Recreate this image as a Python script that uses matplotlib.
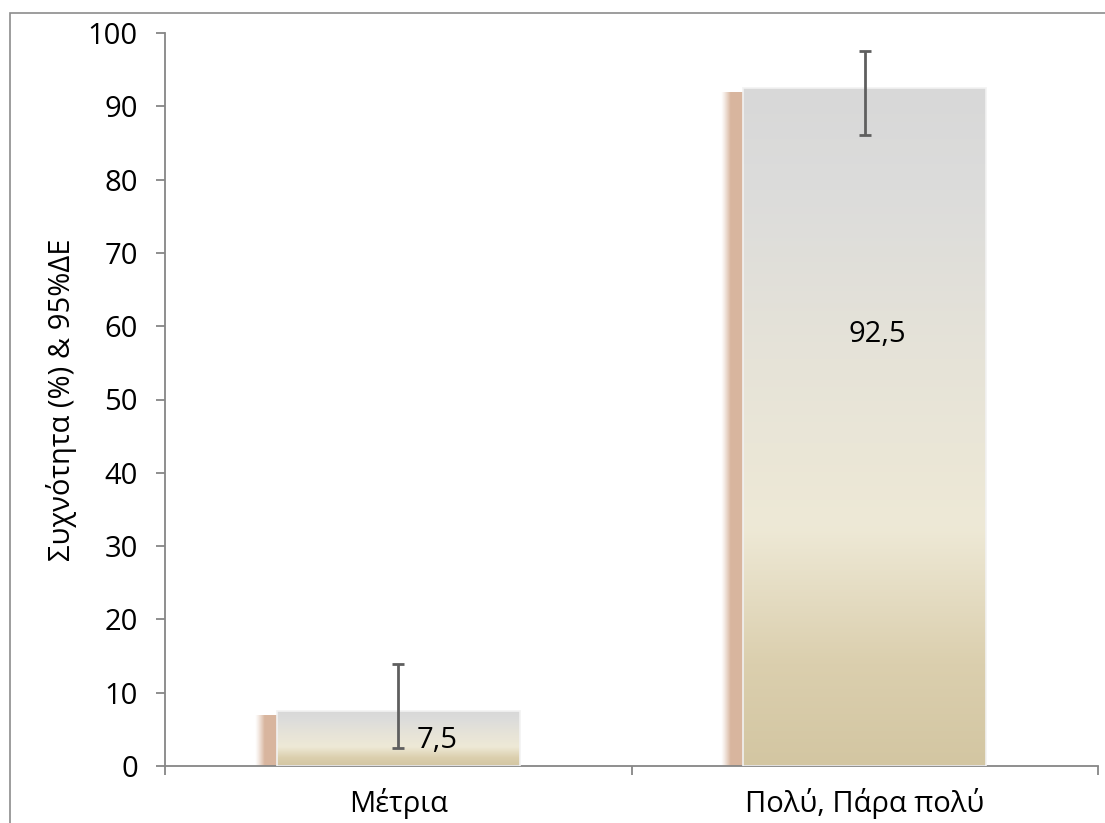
import numpy as np
import matplotlib
matplotlib.use("Agg")
import matplotlib.pyplot as plt
from matplotlib.colors import LinearSegmentedColormap
from matplotlib.patches import Rectangle

plt.rcParams['font.family'] = ['Open Sans', 'DejaVu Sans']

# data
categories = ['Μέτρια', 'Πολύ, Πάρα πολύ']
values = [7.5, 92.5]
ci_low = [2.5, 86.1]
ci_high = [13.9, 97.5]
value_labels = ['7,5', '92,5']
label_y = [3.5, 58.8]
label_dx = [0.083, 0.028]
y_ticks = list(range(0, 101, 10))

fs = 21

fig = plt.figure(figsize=(11.05, 8.23), dpi=100)
ax = fig.add_axes([165 / 1105, 1 - 766 / 823, (1098 - 165) / 1105, (766 - 33) / 823])

# outer chart border (only left/top visible in the crop)
fig.patches.append(Rectangle((10 / 1105, -0.02), 1.1, 1 - 13 / 823 + 0.02,
                             transform=fig.transFigure, fill=False,
                             edgecolor='#8c8c8c', linewidth=1.2, zorder=0))

grad = LinearSegmentedColormap.from_list(
    'bar', [(0.0, '#d3c6a2'), (0.15, '#dbcfae'), (0.35, '#eee9d6'),
            (0.6, '#e6e3d8'), (0.85, '#dcdcdb'), (1.0, '#d8d8d8')])
shadow = np.array([0.85, 0.71, 0.62])

x = np.arange(len(categories))
width = 0.52
bars = ax.bar(x, values, width=width, color='none', edgecolor='#f2f2f2',
              linewidth=1.2, zorder=3)

g = np.linspace(0, 1, 256).reshape(-1, 1)
for b in bars:
    x0, w, h = b.get_x(), b.get_width(), b.get_height()
    im = ax.imshow(g, cmap=grad, origin='lower', aspect='auto',
                   extent=[x0, x0 + w, 0, h], zorder=2, interpolation='bilinear')
    im.set_clip_path(b)
    # soft shadow to the left of each bar
    sw = 0.048
    t = np.linspace(0, 1, 64)
    alpha = np.clip(t / 0.42, 0, 1) ** 1.2
    sh = np.zeros((1, 64, 4))
    sh[0, :, :3] = shadow
    sh[0, :, 3] = alpha
    ax.imshow(sh, aspect='auto', extent=[x0 - sw, x0, 0, h - 0.6],
              zorder=1.5, interpolation='bilinear')

yerr = [np.array(values) - np.array(ci_low), np.array(ci_high) - np.array(values)]
ax.errorbar(x, values, yerr=yerr, fmt='none', ecolor='#5f5f5f',
            elinewidth=2.0, capsize=4.5, capthick=2.0, zorder=4)

for xi, lab, ly, dx in zip(x, value_labels, label_y, label_dx):
    ax.text(xi + dx, ly, lab, ha='center', va='center', fontsize=fs,
            color='black', zorder=5)

ax.set_xlim(-0.5, len(categories) - 0.5)
ax.set_ylim(0, 100)
ax.set_yticks(y_ticks)
ax.set_xticks(x)
ax.set_xticklabels(categories, fontsize=fs)
ax.set_xticks(np.arange(-0.5, len(categories), 1.0), minor=True)
ax.tick_params(axis='x', which='major', length=0, pad=16)
ax.tick_params(axis='x', which='minor', length=6.5, width=1.3, color='#868686')
ax.tick_params(axis='y', labelsize=fs, length=6.5, width=1.3, color='#868686', pad=13)
ax.set_ylabel('Συχνότητα (%) & 95%ΔΕ', fontsize=fs, labelpad=8)

for s in ['top', 'right']:
    ax.spines[s].set_visible(False)
for s in ['left', 'bottom']:
    ax.spines[s].set_color('#868686')
    ax.spines[s].set_linewidth(1.3)
ax.patch.set_visible(False)

fig.savefig('out.png', dpi=100)
